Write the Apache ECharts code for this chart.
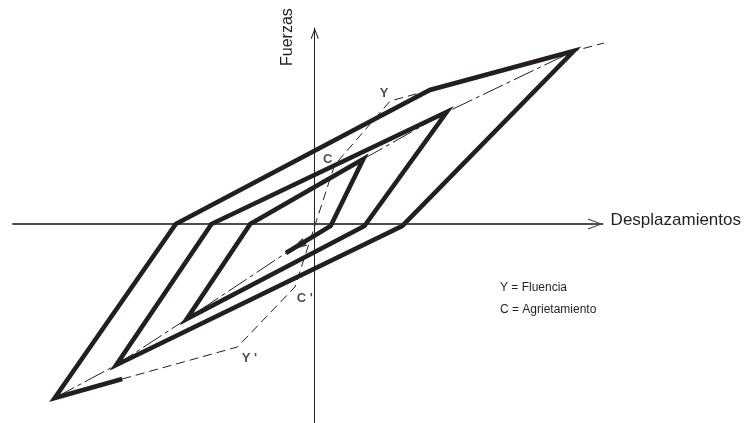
<!DOCTYPE html>
<html>
<head>
<meta charset="utf-8">
<script src="https://cdn.jsdelivr.net/npm/echarts@6/dist/echarts.min.js"></script>
<style>
  html, body { margin: 0; padding: 0; background: #ffffff; }
  #chart { width: 744px; height: 423px; }
</style>
</head>
<body>
<div id="chart"></div>
<script>
// Lazo histerético fuerza–desplazamiento (unidades arbitrarias)
const cicloDesp   = [-19.4, -26.2, -14.0, 11.6, 26.1, 8.8, -20.0, -10.4, 13.3, 5.0, -12.9, -6.5, 4.9, 1.6, -2.9];
const cicloFuerza = [-15.5, -17.4,   0.0, 13.4, 17.3, -0.2, -14.1,  0.0, 11.2, -0.2, -9.5,  0.0, 6.5, -0.2, -2.9];

// Trayectorias hacia los picos alcanzados en ciclos anteriores
const picosDesp   = [-26.2, -20.0, -12.9, -2.9, null, 4.9, 13.3, 26.1];
const picosFuerza = [-17.4, -14.1,  -9.5, -2.9, null, 6.5, 11.2, 17.3];

// Curva envolvente (agrietamiento y fluencia en ambos sentidos)
const envDesp      = [-19.4, -7.8, -2.0, 2.0, 7.6, 26.1, 30.3];
const envFuerza    = [-15.5, -12.3, -6.3, 5.9, 12.3, 17.3, 18.4];
const envEtiquetas = ['', "Y '", "C '", 'C', 'Y', '', ''];

// Flecha que indica el sentido de la descarga
const flechaDesp   = [-1.7];
const flechaFuerza = [-2.2];

const leyenda = ['Y = Fluencia', 'C = Agrietamiento'];
const tituloX = 'Desplazamientos';
const tituloY = 'Fuerzas';

const negro = '#231f20';
const fuente = 'Liberation Sans, Arial, Helvetica, sans-serif';

// Desplazamientos de cada etiqueta de la envolvente respecto a su punto (px)
const desplEtiqueta = { 'Y': [-6, -8], 'C': [-7, -6], "Y '": [12, 11], "C '": [10, 11] };

const pares = (xs, ys) => xs.map((x, i) => (x === null ? [null, null] : [x, ys[i]]));

const etiquetas = [];
envEtiquetas.forEach((t, i) => {
  if (t) {
    etiquetas.push({
      value: [envDesp[i], envFuerza[i]],
      label: { formatter: t, offset: desplEtiqueta[t] }
    });
  }
});

// Orientación de la flecha según el último tramo del lazo
const n = cicloDesp.length;
const dx = cicloDesp[n - 1] - cicloDesp[n - 2];
const dy = cicloFuerza[n - 1] - cicloFuerza[n - 2];
const giro = Math.atan2(-dx, dy) * 180 / Math.PI;

const puntaH = 'path://M5.5,0 L11,14.2 L9.9,15 L5.5,2.6 L1.1,15 L0,14.2 Z';
const puntaV = 'path://M4,0 L8,10.3 L7.1,11 L4,2.4 L0.9,11 L0,10.3 Z';

const chart = echarts.init(document.getElementById('chart'), null, { renderer: 'canvas' });
chart.setOption({
  backgroundColor: '#ffffff',
  animation: false,
  title: {
    left: 500,
    top: 277,
    padding: 0,
    text: leyenda.join('\n'),
    textStyle: { fontFamily: fuente, fontSize: 12, fontWeight: 'normal', color: negro, lineHeight: 22 }
  },
  grid: { left: 13, right: 137, top: 28, bottom: 0, containLabel: false },
  xAxis: {
    type: 'value',
    min: -30.4,
    max: 29.0,
    axisLine: {
      onZero: true,
      lineStyle: { color: '#4d4d4d', width: 1.8 },
      symbol: ['none', puntaH],
      symbolSize: [11, 15],
      symbolOffset: [0, -7.5]
    },
    axisTick: { show: false },
    axisLabel: { show: false },
    splitLine: { show: false },
    name: tituloX,
    nameLocation: 'end',
    nameGap: 8,
    nameTextStyle: { fontFamily: fuente, fontSize: 17, color: negro, verticalAlign: 'bottom', lineHeight: 8 }
  },
  yAxis: {
    type: 'value',
    min: -19.9,
    max: 19.6,
    axisLine: {
      onZero: true,
      lineStyle: { color: negro, width: 1 },
      symbol: ['none', puntaV],
      symbolSize: [8, 11],
      symbolOffset: [0, -5.5]
    },
    axisTick: { show: false },
    axisLabel: { show: false },
    splitLine: { show: false },
    name: tituloY,
    nameLocation: 'end',
    nameRotate: 90,
    nameGap: -38,
    nameTextStyle: { fontFamily: fuente, fontSize: 16, color: negro, verticalAlign: 'bottom', lineHeight: 54 }
  },
  series: [
    {
      name: 'envolvente',
      type: 'line',
      data: pares(envDesp, envFuerza),
      showSymbol: false,
      clip: false,
      lineStyle: { color: negro, width: 1, type: [9, 5] },
      z: 2
    },
    {
      name: 'picos',
      type: 'line',
      data: pares(picosDesp, picosFuerza),
      connectNulls: false,
      showSymbol: false,
      lineStyle: { color: negro, width: 1, type: [22, 4, 4, 4] },
      z: 2
    },
    {
      name: 'ciclos',
      type: 'line',
      data: pares(cicloDesp, cicloFuerza),
      showSymbol: false,
      lineStyle: { color: negro, width: 4.6, join: 'miter', miterLimit: 10, cap: 'butt' },
      z: 3
    },
    {
      name: 'flecha',
      type: 'scatter',
      data: pares(flechaDesp, flechaFuerza),
      symbol: 'path://M4.5,0 L9,16 L0,16 Z',
      symbolSize: [9, 16],
      symbolRotate: giro,
      itemStyle: { color: negro },
      z: 4
    },
    {
      name: 'etiquetas',
      type: 'scatter',
      data: etiquetas,
      symbolSize: 1,
      itemStyle: { color: 'rgba(0,0,0,0)' },
      label: {
        show: true,
        position: 'inside',
        fontFamily: fuente,
        fontSize: 13,
        fontWeight: 'bold',
        color: negro
      },
      z: 5
    }
  ]
});
</script>
</body>
</html>
